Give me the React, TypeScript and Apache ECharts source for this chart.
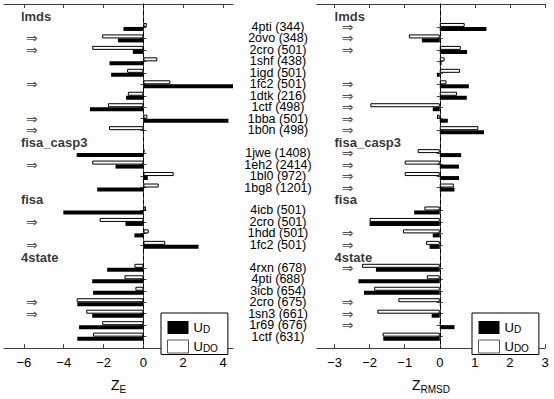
import React, { useEffect, useRef } from 'react';
import * as echarts from 'echarts';

// ---------- data ----------
const groupNames = ['lmds', 'fisa_casp3', 'fisa', '4state'];
const lmdsTargets = ['4pti (344)', '2ovo (348)', '2cro (501)', '1shf (438)', '1igd (501)', '1fc2 (501)', '1dtk (216)', '1ctf (498)', '1bba (501)', '1b0n (498)'];
const fisaCasp3Targets = ['1jwe (1408)', '1eh2 (2414)', '1bl0 (972)', '1bg8 (1201)'];
const fisaTargets = ['4icb (501)', '2cro (501)', '1hdd (501)', '1fc2 (501)'];
const fourStateTargets = ['4rxn (678)', '4pti (688)', '3icb (654)', '2cro (675)', '1sn3 (661)', '1r69 (676)', '1ctf (631)'];

// Z_E values (rows in the order above)
const zE_UD = [-1.0, -1.28, -0.53, -1.7, -1.62, 4.5, -0.87, -2.68, 4.27, 0.0,
  -3.35, -1.4, 0.22, -2.32,
  -4.02, -0.9, -0.45, 2.77,
  -1.82, -2.57, -2.53, -3.32, -2.57, -3.23, -3.32];
const zE_UDO = [0.17, -2.07, -2.57, 0.7, -0.82, 1.35, -0.78, -1.78, 0.2, -1.73,
  0.05, -2.57, 1.52, 0.77,
  0.13, -2.2, 0.27, 1.1,
  -0.45, -0.95, -0.4, -3.35, -2.87, -2.07, -2.53];
// Z_RMSD values
const zR_UD = [1.33, -0.51, 0.78, 0.05, -0.08, 0.83, 0.77, -0.2, 0.23, 1.26,
  0.61, 0.55, 0.55, 0.42,
  -0.73, -2.0, -0.2, -0.29,
  -1.82, -2.32, -2.16, 0.02, -0.23, 0.42, -1.61];
const zR_UDO = [0.71, -0.88, 0.6, 0.14, 0.58, 0.19, 0.49, -1.98, -0.08, 1.1,
  -0.63, -1.0, -1.0, 0.4,
  -0.44, -2.0, -1.05, -0.39,
  -2.22, -0.37, -1.87, -1.18, -1.78, 0.03, -1.63];
// arrows (1 = arrow shown in front of the row)
const arrowE = [0, 1, 1, 0, 0, 1, 0, 0, 1, 1,
  0, 1, 0, 0,
  0, 1, 0, 1,
  0, 0, 0, 1, 1, 0, 0];
const arrowR = [1, 1, 1, 0, 0, 1, 1, 1, 1, 1,
  1, 1, 1, 1,
  0, 0, 1, 1,
  1, 0, 0, 1, 1, 1, 0];

const zETicks = [-6, -4, -2, 0, 2, 4];
const zRTicks = [-3, -2, -1, 0, 1, 2, 3];

// ---------- build slots ----------
const groupTargets = [lmdsTargets, fisaCasp3Targets, fisaTargets, fourStateTargets];
const slotLabels: string[] = [''];
const slotIsRow: boolean[] = [false];
const rowSlot: number[] = [];
const headerSlot: number[] = [];
groupTargets.forEach((t) => {
  headerSlot.push(slotLabels.length);
  slotLabels.push('');
  slotIsRow.push(false);
  t.forEach((name) => {
    rowSlot.push(slotLabels.length);
    slotLabels.push(name);
    slotIsRow.push(true);
  });
});
slotLabels.push('');
slotIsRow.push(false);
const slotKeys = slotLabels.map((_, i) => 'S' + i);

function toSlots(vals: number[]) {
  const arr: any[] = slotLabels.map(() => '-');
  vals.forEach((v, i) => { arr[rowSlot[i]] = v; });
  return arr;
}

const FONT = '"Liberation Sans", Arial, Helvetica, sans-serif';
const FRAME = '#404040';
const minus = (v: number) => String(v).replace('-', '\u2212');

function xAxes(min: number, max: number, ticks: number[], grid: number, name: string) {
  return [
    {
      type: 'value', gridIndex: grid, position: 'bottom', min, max,
      axisLine: { show: true, lineStyle: { color: FRAME, width: 1 } },
      axisTick: { show: true, inside: true, length: 4, customValues: ticks, lineStyle: { color: FRAME } },
      axisLabel: { show: true, customValues: ticks, margin: 8, color: '#000', fontSize: 13, fontFamily: FONT, formatter: (v: number) => minus(v) },
      splitLine: { show: false },
      name, nameLocation: 'middle', nameGap: 20,
      nameTextStyle: {
        color: '#000', fontFamily: FONT,
        rich: {
          z: { fontSize: 14, fontFamily: FONT, color: '#000', verticalAlign: 'top', lineHeight: 16 },
          s: { fontSize: 10, fontFamily: FONT, color: '#000', verticalAlign: 'bottom', lineHeight: 10, padding: [10, 0, 0, 0] },
        },
      },
    },
    {
      type: 'value', gridIndex: grid, position: 'top', min, max,
      axisLine: { show: true, lineStyle: { color: FRAME, width: 1 } },
      axisTick: { show: true, inside: true, length: 4, customValues: ticks, lineStyle: { color: FRAME } },
      axisLabel: { show: false },
      splitLine: { show: false },
    },
  ];
}

function yAxes(grid: number, withLabels: boolean) {
  const tickInt = (index: number) => slotIsRow[index];
  return [
    {
      type: 'category', gridIndex: grid, position: 'left', inverse: true, boundaryGap: false,
      data: slotKeys,
      axisLine: { show: true, lineStyle: { color: FRAME, width: 1 } },
      axisTick: { show: true, inside: true, length: 3, interval: tickInt, lineStyle: { color: FRAME } },
      axisLabel: withLabels
        ? { show: true, interval: 0, align: 'center', margin: 39, color: '#000', fontSize: 12.5, fontFamily: FONT, formatter: (_v: string, i: number) => slotLabels[i] }
        : { show: false },
      splitLine: { show: false },
    },
    {
      type: 'category', gridIndex: grid, position: 'right', inverse: true, boundaryGap: false,
      data: slotKeys,
      axisLine: { show: true, lineStyle: { color: FRAME, width: 1 } },
      axisTick: { show: true, inside: true, length: 3, interval: tickInt, lineStyle: { color: FRAME } },
      axisLabel: { show: false },
      splitLine: { show: false },
    },
  ];
}

function barSeries(xi: number, yi: number, udo: number[], ud: number[]) {
  return [
    {
      type: 'bar', name: 'U_DO', xAxisIndex: xi, yAxisIndex: yi, data: toSlots(udo),
      barWidth: 4, barGap: '0%',
      itemStyle: { color: '#fff', borderColor: '#000', borderWidth: 1 },
    },
    {
      type: 'bar', name: 'U_D', xAxisIndex: xi, yAxisIndex: yi, data: toSlots(ud),
      barWidth: 4, barGap: '0%',
      itemStyle: { color: '#000' },
      markLine: {
        silent: true, symbol: 'none', label: { show: false },
        lineStyle: { color: '#000', width: 1, type: [4, 3] },
        data: [{ xAxis: 0 }],
      },
    },
  ];
}

function arrowSeries(xi: number, yi: number, flags: number[], x: number) {
  const data: any[] = [];
  flags.forEach((f, i) => { if (f) data.push([x, rowSlot[i]]); });
  return {
    type: 'scatter', xAxisIndex: xi, yAxisIndex: yi, data, symbolSize: 0, silent: true,
    label: { show: true, position: 'inside', formatter: '\u21D2', fontFamily: '"DejaVu Sans", sans-serif', fontSize: 14, lineHeight: 10, color: '#222' },
  };
}

function groupSeries(xi: number, yi: number, x: number) {
  const data = groupNames.map((g, i) => [x, headerSlot[i], g]);
  return {
    type: 'scatter', xAxisIndex: xi, yAxisIndex: yi, data, symbolSize: 0, silent: true,
    label: { show: true, position: 'right', distance: 0, offset: [0, 1], formatter: (p: any) => p.data[2], fontFamily: FONT, fontWeight: 'bold', fontSize: 13, lineHeight: 12, color: '#000' },
  };
}

function legendAt(left: number) {
  return {
    left, top: 313, orient: 'vertical', selectedMode: false,
    icon: 'rect', itemWidth: 21, itemHeight: 13, itemGap: 0,
    padding: [2, 10, 1, 6],
    borderColor: '#000', borderWidth: 1, backgroundColor: '#fff',
    data: [
      { name: 'U_D', itemStyle: { color: '#000', borderWidth: 0 } },
      { name: 'U_DO', itemStyle: { color: '#fff', borderColor: '#555', borderWidth: 1 } },
    ],
    formatter: (n: string) => (n === 'U_D' ? '{u|U}{s|D}' : '{u|U}{s|DO}'),
    textStyle: {
      fontFamily: FONT, color: '#000',
      rich: {
        u: { fontSize: 13, fontFamily: FONT, color: '#000', verticalAlign: 'top', lineHeight: 13 },
        s: { fontSize: 10, fontFamily: FONT, color: '#000', verticalAlign: 'bottom', lineHeight: 10, padding: [9, 0, 0, 0] },
      },
    },
  };
}

export default function App() {
  const ref = useRef<HTMLDivElement>(null);
  useEffect(() => {
    if (!ref.current) return;
    const chart = echarts.init(ref.current, null, { renderer: 'svg' });
    chart.setOption({
      animation: false,
      backgroundColor: '#fff',
      textStyle: { fontFamily: FONT },
      grid: [
        { left: 4, top: 4, width: 229, height: 358, containLabel: false },
        { left: 317, top: 4, width: 228, height: 358, containLabel: false },
      ],
      xAxis: [
        ...xAxes(-7, 4.5, zETicks, 0, '{z|Z}{s|E}'),
        ...xAxes(-3.5, 3, zRTicks, 1, '{z|Z}{s|RMSD}'),
      ],
      yAxis: [...yAxes(0, false), ...yAxes(1, true)],
      legend: [legendAt(161), legendAt(472)],
      series: [
        ...barSeries(0, 0, zE_UDO, zE_UD),
        ...barSeries(2, 2, zR_UDO, zR_UD),
        arrowSeries(0, 0, arrowE, -5.6),
        arrowSeries(2, 2, arrowR, -2.63),
        groupSeries(0, 0, -6.15),
        groupSeries(2, 2, -3.0),
      ],
    });
    return () => chart.dispose();
  }, []);
  return <div ref={ref} style={{ position: 'absolute', left: 0, top: 0, width: 554, height: 399 }} />;
}
